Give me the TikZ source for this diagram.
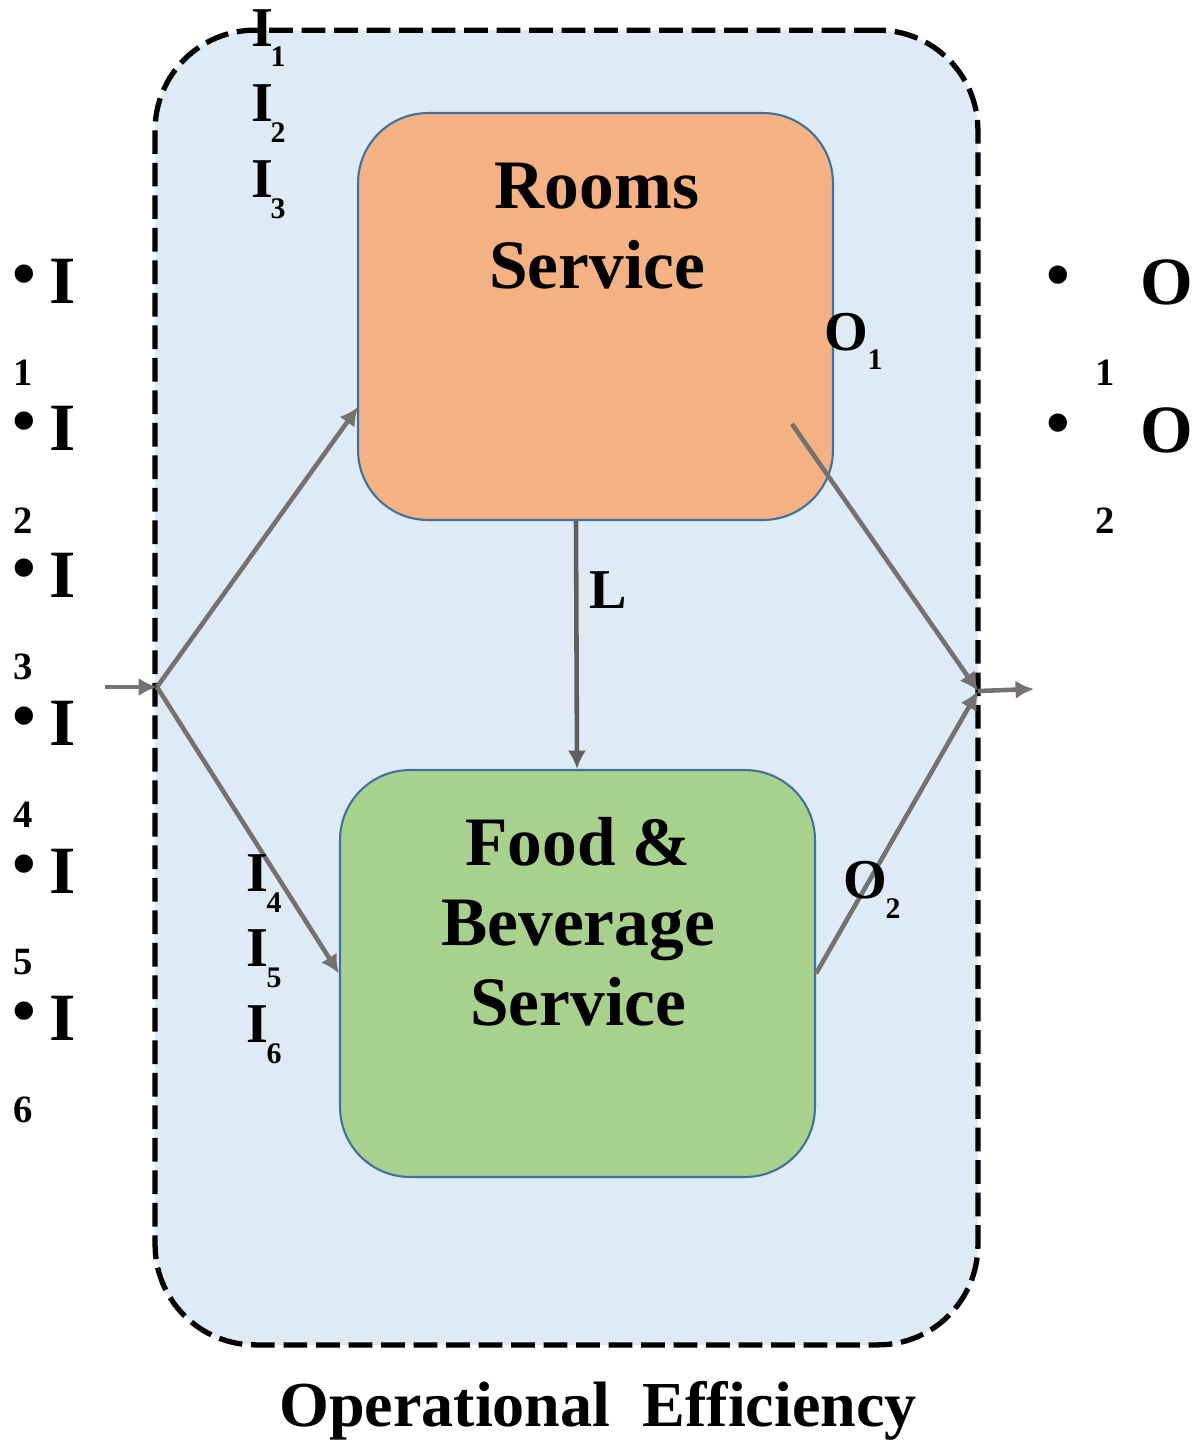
\documentclass[tikz,border=0pt]{standalone}
\usepackage{fontspec}
\setmainfont{Liberation Serif}
\usetikzlibrary{arrows.meta}
\definecolor{bgblue}{HTML}{DEEAF6}
\definecolor{roomfill}{HTML}{F4B183}
\definecolor{fbfill}{HTML}{A9D18E}
\definecolor{boxline}{HTML}{41719C}
\definecolor{conn}{HTML}{767171}
\definecolor{connd}{HTML}{5F5F5F}
\newcommand\myfs[2]{\fontsize{#1}{#2}\selectfont}
\begin{document}
\begin{tikzpicture}[x=0.02cm,y=-0.02cm,
  frame/.style={draw=black, line width=3pt, dash pattern=on 13.5pt off 5pt,
    fill=bgblue, rounded corners=2cm, minimum width=16.46cm, minimum height=26.3cm, inner sep=0},
  svcbox/.style={draw=boxline, line width=1.2pt, rounded corners=1.4cm,
    minimum width=9.5cm, minimum height=8.14cm, inner sep=0},
  title/.style={font=\bfseries\myfs{39.5}{45.5}, align=center, inner sep=0},
  big/.style={font=\bfseries\myfs{38.5}{40}, inner sep=0},
  mid/.style={font=\bfseries\myfs{32}{34}, inner sep=0},
  sub/.style={font=\bfseries\myfs{17}{19}, inner sep=0},
  lsub/.style={font=\bfseries\myfs{22}{24}, inner sep=0},
  flow/.style={draw=conn, line width=2.6pt, -{Latex[length=10.5pt,width=10.5pt]}},
]
\useasboundingbox (0,0) rectangle (1204,1441);

% container
\node[frame] (frame) at (566.5,687.5) {};

% service boxes
\node[svcbox, fill=roomfill] (rooms) at (595.5,316.5) {};
\node[svcbox, fill=fbfill] (fb) at (577.5,973.5) {};
\node[title] (roomsT) at (597,226) {Rooms\\Service};
\node[title] (fbT) at (578,922) {Food \&\\Beverage\\Service};

% connector points
\coordinate (in) at (105,687);
\coordinate (split) at (157,687);
\coordinate (rIn) at (358,407);
\coordinate (rOut) at (792,424);
\coordinate (merge) at (978,691);
\coordinate (out) at (1034,689);

\draw[flow] (in) -- (split);
\draw[flow] (split) -- (rIn);
\draw[flow] (split) -- (fb.west);
\draw[flow, draw=connd] ([xshift=-0.39cm]rooms.south) -- ([xshift=-0.01cm]fb.north);
\draw[flow] (rOut) -- (merge);
\draw[flow] (fb.east) -- (merge);
\draw[flow] (merge) -- (out);

% labels inside
\node[mid] (L) at (608,590) {L};
\node[mid] (o1) at (846,332) {O};
\node[sub] (o1s) at (875,360) {1};
\node[mid] (o2) at (865,880) {O};
\node[sub] (o2s) at (893,909) {2};

\node[mid] (i1) at (262,28) {I};
\node[sub] (i1s) at (278,57) {1};
\node[mid] (i2) at (262,103) {I};
\node[sub] (i2s) at (278,133) {2};
\node[mid] (i3) at (262,179) {I};
\node[sub] (i3s) at (278,209) {3};
\node[mid] (i4) at (257,873) {I};
\node[sub] (i4s) at (274,903) {4};
\node[mid] (i5) at (257,948) {I};
\node[sub] (i5s) at (274,978) {5};
\node[mid] (i6) at (257,1024) {I};
\node[sub] (i6s) at (274,1054) {6};

% left list
\foreach \k/\yy/\ny in {1/281/373, 2/428/521, 3/575/667, 4/723/815, 5/871/962, 6/1018/1110}{
  \node[big] (lb\k) at (24,\yy) {•};
  \node[big] (li\k) at (63,\yy) {I};
  \node[lsub] (ln\k) at (23,\ny) {\k};
}

% right list
\foreach \k/\yy/\ny in {1/282/373, 2/430/521}{
  \node[big] (rb\k) at (1058,\yy) {•};
  \node[big] (ro\k) at (1167,\yy) {O};
  \node[lsub] (rn\k) at (1105,\ny) {\k};
}

% caption
\node[font=\bfseries\myfs{36.5}{40}, inner sep=0] (cap) at (598,1411) {Operational\ \ Efficiency};
\end{tikzpicture}
\end{document}
